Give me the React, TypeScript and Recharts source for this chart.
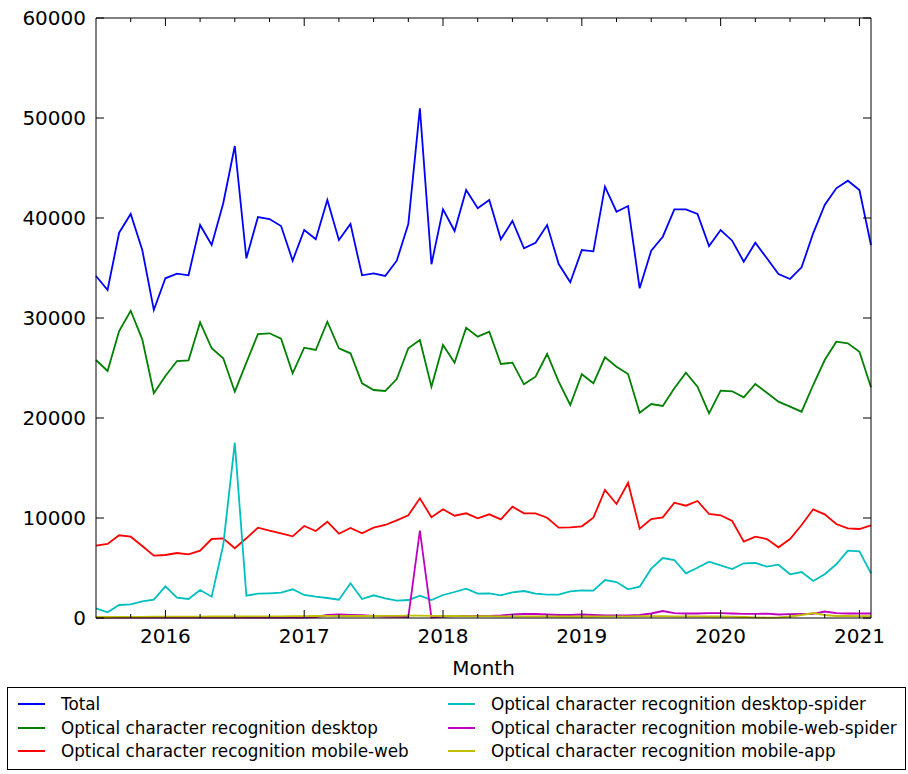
import { LineChart, Line, XAxis, YAxis } from "recharts";

const FONT = "'DejaVu Sans', Verdana, sans-serif";

// months from Jul 2015 (index 0) to Feb 2021 (index 67)
const yearTicks = [6, 18, 30, 42, 54, 66];
const yearLabels = ["2016", "2017", "2018", "2019", "2020", "2021"];
const quarterTicks = [3, 6, 9, 12, 15, 18, 21, 24, 27, 30, 33, 36, 39, 42, 45, 48, 51, 54, 57, 60, 63, 66];
const yTicks = [0, 10000, 20000, 30000, 40000, 50000, 60000];

const total = [
  34200, 32800, 38530, 40400, 36800, 30800, 33970, 34430, 34270, 39300,
  37300, 41470, 47200, 35970, 40100, 39900, 39200, 35730, 38800, 37870,
  41800, 37800, 39400, 34270, 34470, 34200, 35730, 39400, 50970, 35370,
  40870, 38700, 42800, 40970, 41800, 37870, 39700, 36970, 37530, 39300,
  35400, 33570, 36800, 36670, 43130, 40630, 41200, 32970, 36730, 38130,
  40870, 40870, 40400, 37200, 38800, 37730, 35630, 37530, 35970, 34400,
  33900, 35070, 38470, 41300, 42970, 43730, 42800, 37300,
];
const desktop = [
  25800, 24700, 28700, 30730, 27870, 22470, 24200, 25700, 25770, 29570,
  26970, 25970, 22630, 25530, 28400, 28470, 27930, 24470, 27030, 26800,
  29630, 26970, 26470, 23470, 22800, 22700, 23900, 26970, 27800, 23130,
  27300, 25530, 29030, 28130, 28630, 25400, 25530, 23370, 24130, 26400,
  23630, 21300, 24370, 23470, 26070, 25130, 24400, 20530, 21400, 21200,
  22970, 24530, 23130, 20470, 22730, 22670, 22070, 23400, 22530, 21630,
  21130, 20630, 23300, 25800, 27630, 27470, 26630, 23070,
];
const mobileWeb = [
  7230, 7400, 8270, 8130, 7200, 6230, 6300, 6500, 6370, 6730,
  7900, 7970, 6970, 7970, 9030, 8730, 8470, 8170, 9200, 8700,
  9630, 8430, 9000, 8470, 9030, 9300, 9770, 10270, 11970, 10070,
  10870, 10230, 10470, 9970, 10370, 9870, 11130, 10470, 10470, 10030,
  9030, 9070, 9170, 10030, 12800, 11400, 13530, 8930, 9900, 10070,
  11530, 11230, 11700, 10400, 10270, 9700, 7630, 8130, 7900, 7070,
  7900, 9300, 10870, 10370, 9400, 8970, 8900, 9270,
];
const desktopSpider = [
  970, 570, 1300, 1370, 1670, 1830, 3170, 2030, 1900, 2800,
  2130, 7300, 17530, 2230, 2430, 2470, 2530, 2870, 2300, 2130,
  2000, 1830, 3470, 1900, 2270, 1970, 1730, 1800, 2230, 1800,
  2300, 2600, 2930, 2430, 2470, 2270, 2570, 2700, 2430, 2330,
  2330, 2670, 2770, 2730, 3800, 3600, 2870, 3130, 4930, 6000,
  5800, 4470, 5030, 5630, 5270, 4900, 5470, 5500, 5130, 5330,
  4370, 4600, 3700, 4370, 5370, 6730, 6670, 4470,
];
const mobileWebSpider = [
  30, 30, 30, 30, 30, 30, 30, 30, 30, 30,
  30, 30, 30, 30, 30, 30, 30, 30, 30, 100,
  300, 350, 320, 280, 200, 150, 120, 100, 8730, 50,
  150, 180, 200, 200, 220, 250, 350, 400, 400, 350,
  300, 300, 350, 300, 250, 250, 250, 300, 450, 700,
  480, 450, 450, 480, 480, 450, 420, 420, 430, 350,
  380, 400, 420, 650, 480, 450, 450, 450,
];
const mobileApp = [
  100, 100, 110, 120, 120, 130, 130, 130, 140, 140,
  150, 150, 150, 160, 160, 170, 170, 180, 190, 200,
  210, 200, 200, 200, 200, 210, 220, 230, 230, 220,
  200, 200, 190, 180, 180, 170, 170, 160, 160, 160,
  150, 150, 150, 150, 160, 170, 170, 180, 180, 180,
  170, 160, 160, 150, 150, 140, 100, 60, 40, 60,
  150, 300, 500, 300, 200, 200, 180, 180,
];

const series = [
  { key: "total", name: "Total", color: "#0000ff", values: total },
  { key: "desktop", name: "Optical character recognition desktop", color: "#008000", values: desktop },
  { key: "mobileWeb", name: "Optical character recognition mobile-web", color: "#ff0000", values: mobileWeb },
  { key: "desktopSpider", name: "Optical character recognition desktop-spider", color: "#00bfbf", values: desktopSpider },
  { key: "mobileWebSpider", name: "Optical character recognition mobile-web-spider", color: "#bf00bf", values: mobileWebSpider },
  { key: "mobileApp", name: "Optical character recognition mobile-app", color: "#bfbf00", values: mobileApp },
];

const data = total.map((_, i) => {
  const row: Record<string, number> = { m: i };
  series.forEach((s) => {
    row[s.key] = s.values[i];
  });
  return row;
});

function BottomTick(props: any) {
  const { x, y, payload } = props;
  const idx = yearTicks.indexOf(payload.value);
  const major = idx >= 0;
  return (
    <g>
      <line x1={x} x2={x} y1={y} y2={y - (major ? 8 : 4)} stroke="#000" />
      {major && (
        <text x={x} y={y + 25} textAnchor="middle" fontSize={20} fontFamily={FONT} fill="#000">
          {yearLabels[idx]}
        </text>
      )}
    </g>
  );
}

function TopTick(props: any) {
  const { x, y, payload } = props;
  const major = yearTicks.includes(payload.value);
  return <line x1={x} x2={x} y1={y} y2={y + (major ? 8 : 4)} stroke="#000" />;
}

function LeftTick(props: any) {
  const { x, y, payload } = props;
  return (
    <g>
      <line x1={x} x2={x + 8} y1={y} y2={y} stroke="#000" />
      <text x={x - 10} y={y} dy={7} textAnchor="end" fontSize={20} fontFamily={FONT} fill="#000">
        {payload.value}
      </text>
    </g>
  );
}

function RightTick(props: any) {
  const { x, y } = props;
  return <line x1={x} x2={x - 8} y1={y} y2={y} stroke="#000" />;
}

export default function App() {
  return (
    <div style={{ position: "absolute", left: 0, top: 0, width: 908, height: 774, background: "#fff" }}>
      <LineChart
        width={908}
        height={680}
        data={data}
        margin={{ top: 17, right: 36, left: 0, bottom: 0 }}
      >
        <XAxis
          dataKey="m"
          type="number"
          domain={[0, 67]}
          ticks={quarterTicks}
          interval={0}
          height={62}
          tickSize={0}
          tickMargin={0}
          tickLine={false}
          tick={<BottomTick />}
          axisLine={{ stroke: "#000" }}
          label={{ value: "Month", position: "insideBottom", offset: 5, fontSize: 20, fontFamily: FONT, fill: "#000" }}
        />
        <XAxis
          xAxisId="top"
          dataKey="m"
          type="number"
          orientation="top"
          domain={[0, 67]}
          ticks={quarterTicks}
          interval={0}
          height={1}
          tickSize={0}
          tickMargin={0}
          tickLine={false}
          tick={<TopTick />}
          axisLine={{ stroke: "#000" }}
        />
        <YAxis
          type="number"
          domain={[0, 60000]}
          ticks={yTicks}
          interval={0}
          width={96}
          tickSize={0}
          tickMargin={0}
          tickLine={false}
          tick={<LeftTick />}
          axisLine={{ stroke: "#000" }}
        />
        <YAxis
          yAxisId="right"
          orientation="right"
          type="number"
          domain={[0, 60000]}
          ticks={yTicks}
          interval={0}
          width={1}
          tickSize={0}
          tickMargin={0}
          tickLine={false}
          tick={<RightTick />}
          axisLine={{ stroke: "#000" }}
        />
        {/* invisible copy of Total so the frame axes on top/right are rendered */}
        <Line
          xAxisId="top"
          yAxisId="right"
          dataKey="total"
          stroke="none"
          strokeOpacity={0}
          dot={false}
          activeDot={false}
          legendType="none"
          isAnimationActive={false}
        />
        {series.map((s) => (
          <Line
            key={s.key}
            dataKey={s.key}
            name={s.name}
            stroke={s.color}
            strokeWidth={1.8}
            dot={false}
            activeDot={false}
            type="linear"
            isAnimationActive={false}
          />
        ))}
      </LineChart>
      <div
        style={{
          position: "absolute",
          left: 7,
          top: 687,
          width: 897,
          height: 81,
          border: "1px solid #000",
          fontFamily: FONT,
          fontSize: 16.8,
          color: "#000",
        }}
      >
        {series.map((s, i) => {
          const col = i < 3 ? 0 : 1;
          const row = i % 3;
          const left = col === 0 ? 10 : 440;
          const top = 16 + row * 23.5;
          return (
            <div key={s.key} style={{ position: "absolute", left, top: top - 11, height: 22, display: "flex", alignItems: "center", whiteSpace: "nowrap" }}>
              <span style={{ display: "inline-block", width: 27, height: 0, borderTop: `2px solid ${s.color}`, marginRight: 16 }} />
              <span>{s.name}</span>
            </div>
          );
        })}
      </div>
    </div>
  );
}
